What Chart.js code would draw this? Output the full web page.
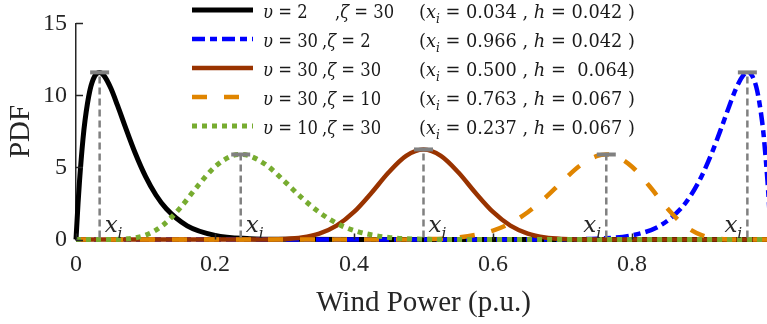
<!DOCTYPE html>
<html>
<head>
<meta charset="utf-8">
<script src="https://cdn.jsdelivr.net/npm/chart.js@4.4.1/dist/chart.umd.min.js"></script>
<style>
  html, body { margin: 0; padding: 0; background: #fff; overflow: hidden; width: 767px; height: 324px; }
  canvas { display: block; }
</style>
</head>
<body>
<canvas id="chart" width="780" height="324"></canvas>
<script>
// Axis ticks
const xTickValues = [0, 0.2, 0.4, 0.6, 0.8];
const yTickValues = [0, 5, 10, 15];

// Beta PDFs of wind power, v = 2, zeta = 30
const blackX = [0, 0.003, 0.005, 0.01, 0.013, 0.02, 0.027, 0.034, 0.04, 0.05, 0.06, 0.07, 0.085, 0.1, 0.115, 0.13, 0.16, 0.2, 0.25, 0.3, 0.4, 0.6, 0.8, 1.0];
const blackY = [0, 2.56, 4.02, 6.95, 8.27, 10.35, 11.35, 11.6, 11.39, 10.51, 9.27, 7.94, 6.02, 4.38, 3.09, 2.13, 0.95, 0.29, 0.06, 0.01, 0, 0, 0, 0];

// v = 30, zeta = 2
const blueX = [0, 0.2, 0.4, 0.6, 0.7, 0.75, 0.8, 0.84, 0.87, 0.885, 0.9, 0.915, 0.93, 0.94, 0.95, 0.96, 0.966, 0.973, 0.98, 0.987, 0.99, 0.995, 0.997, 1.0];
const blueY = [0, 0, 0, 0, 0.01, 0.06, 0.29, 0.95, 2.13, 3.09, 4.38, 6.02, 7.94, 9.27, 10.51, 11.39, 11.6, 11.35, 10.35, 8.27, 6.95, 4.02, 2.56, 0];

// v = 30, zeta = 30
const brownX = [0, 0.25, 0.3, 0.325, 0.35, 0.375, 0.4, 0.425, 0.45, 0.475, 0.5, 0.525, 0.55, 0.575, 0.6, 0.625, 0.65, 0.675, 0.7, 0.75, 1.0];
const brownY = [0, 0, 0.04, 0.14, 0.41, 0.96, 1.91, 3.23, 4.67, 5.81, 6.25, 5.81, 4.67, 3.23, 1.91, 0.96, 0.41, 0.14, 0.04, 0, 0];

// v = 30, zeta = 10
const orangeX = [0, 0.45, 0.5, 0.55, 0.6, 0.625, 0.65, 0.675, 0.7, 0.725, 0.75, 0.763, 0.775, 0.8, 0.825, 0.85, 0.875, 0.9, 0.925, 0.95, 1.0];
const orangeY = [0, 0, 0.02, 0.14, 0.62, 1.13, 1.89, 2.89, 4.04, 5.13, 5.80, 5.9, 5.82, 5.05, 3.71, 2.20, 0.99, 0.30, 0.05, 0, 0];

// v = 10, zeta = 30
const greenX = [0, 0.05, 0.075, 0.1, 0.125, 0.15, 0.175, 0.2, 0.225, 0.237, 0.25, 0.275, 0.3, 0.325, 0.35, 0.375, 0.4, 0.45, 0.5, 0.55, 1.0];
const greenY = [0, 0, 0.05, 0.30, 0.99, 2.20, 3.71, 5.05, 5.82, 5.9, 5.80, 5.13, 4.04, 2.89, 1.89, 1.13, 0.62, 0.14, 0.02, 0, 0];

// Legend parameters, in legend order: black, blue, brown, orange, green
const nuValues = ['2', '30', '30', '30', '10'];
const zetaValues = ['30', '2', '30', '10', '30'];
const xiValues = [0.034, 0.966, 0.500, 0.763, 0.237];
const xiLabels = ['0.034', '0.966', '0.500', '0.763', '0.237'];
const hLabels = ['0.042', '0.042', '0.064', '0.067', '0.067'];
const peakValues = [11.6, 11.6, 6.25, 5.9, 5.9];

const toPoints = (xs, ys) => xs.map((x, i) => ({ x: x, y: ys[i] }));

const TEXT = '#262626';
const SERIF = '"Liberation Serif", "Times New Roman", serif';
const MATH = '"DejaVu Serif", serif';

const series = [
  { data: toPoints(blackX, blackY), borderColor: '#000000', borderWidth: 5, borderDash: [], order: 4 },
  { data: toPoints(blueX, blueY), borderColor: '#0000FF', borderWidth: 4.5, borderDash: [13, 5, 7, 5], order: 3 },
  { data: toPoints(brownX, brownY), borderColor: '#993300', borderWidth: 4.5, borderDash: [], order: 2 },
  { data: toPoints(orangeX, orangeY), borderColor: '#E08500', borderWidth: 4.5, borderDash: [15, 17], order: 1 },
  { data: toPoints(greenX, greenY), borderColor: '#77AC30', borderWidth: 5, borderDash: [5, 5], order: 0 }
];

// Draw a sequence of text runs (plain / italic / subscript) starting at x
function drawRuns(ctx, runs, x, y, size, measureOnly) {
  let cx = x;
  runs.forEach(r => {
    const s = r.sub ? size * 0.68 : size;
    ctx.font = (r.it ? 'italic ' : '') + s + 'px ' + MATH;
    if (!measureOnly) ctx.fillText(r.t, cx, y + (r.sub ? size * 0.28 : 0));
    cx += ctx.measureText(r.t).width;
  });
  return cx - x;
}

function drawScaled(ctx, runs, x, y, size, sx) {
  ctx.save();
  ctx.translate(x, y);
  ctx.scale(sx, 1);
  drawRuns(ctx, runs, 0, 0, size, false);
  ctx.restore();
}

const legendPlugin = {
  id: 'paramLegend',
  afterDraw(chart) {
    const ctx = chart.ctx;
    const rowY = [10, 39, 68, 97, 126];
    const size = 18;
    ctx.save();
    ctx.textBaseline = 'alphabetic';
    ctx.textAlign = 'left';
    ctx.fillStyle = '#1a1a1a';

    const col1 = i => [{ t: 'υ', it: true }, { t: ' = ' + nuValues[i] }];
    const col2 = i => [{ t: ',' }, { t: 'ζ', it: true }, { t: ' = ' + zetaValues[i] }];
    const col3 = i => [
      { t: '(' }, { t: 'x', it: true }, { t: 'i', it: true, sub: true },
      { t: ' = ' + xiLabels[i] + ' , ' }, { t: 'h', it: true },
      { t: ' = ' + (i === 2 ? ' ' + hLabels[i] + ')' : hLabels[i] + ' )') }
    ];
    const sxA = 55 / drawRuns(ctx, col1(1), 0, 0, size, true);
    const sxB = 216 / drawRuns(ctx, col3(0), 0, 0, size, true);

    chart.data.datasets.forEach((ds, i) => {
      const y = rowY[i];
      // line sample
      ctx.save();
      ctx.strokeStyle = ds.borderColor;
      ctx.lineWidth = ds.borderWidth;
      ctx.setLineDash(ds.borderDash || []);
      ctx.beginPath();
      ctx.moveTo(192, y);
      ctx.lineTo(253, y);
      ctx.stroke();
      ctx.restore();

      const base = y + 8;
      drawScaled(ctx, col1(i), 263, base, size, sxA);
      drawScaled(ctx, col2(i), i === 0 ? 335 : 322, base, size, sxA);
      drawScaled(ctx, col3(i), 419, base, size, sxB);
    });
    ctx.restore();
  }
};

// Mode markers: dashed drop line, cap at the peak and an x_i label
const markerPlugin = {
  id: 'modeMarkers',
  afterDatasetsDraw(chart) {
    const ctx = chart.ctx;
    const xs = chart.scales.x, ys = chart.scales.y;
    const y0 = ys.getPixelForValue(0);
    ctx.save();
    xiValues.forEach((xi, i) => {
      const px = xs.getPixelForValue(xi);
      const py = ys.getPixelForValue(peakValues[i]);
      ctx.strokeStyle = '#808080';
      ctx.lineWidth = 2.5;
      ctx.setLineDash([7, 4]);
      ctx.beginPath();
      ctx.moveTo(px, y0 - 2);
      ctx.lineTo(px, py);
      ctx.stroke();
      ctx.setLineDash([]);
      ctx.lineWidth = 4;
      ctx.beginPath();
      ctx.moveTo(px - 9.5, py);
      ctx.lineTo(px + 9.5, py);
      ctx.stroke();

      // label
      ctx.fillStyle = TEXT;
      ctx.textBaseline = 'alphabetic';
      ctx.textAlign = 'left';
      const runs = [{ t: 'x', it: true }, { t: 'i', it: true, sub: true }];
      const w = drawRuns(ctx, runs, 0, 0, 23, true);
      const lx = xi > 0.7 ? px - 5 - w : px + 5;
      drawRuns(ctx, runs, lx, 232, 23, false);
    });
    ctx.restore();
  }
};

// Inward ticks on both axes
const tickPlugin = {
  id: 'inwardTicks',
  afterDraw(chart) {
    const ctx = chart.ctx;
    const xs = chart.scales.x, ys = chart.scales.y;
    const a = chart.chartArea;
    ctx.save();
    ctx.strokeStyle = TEXT;
    ctx.lineWidth = 1.5;
    ctx.beginPath();
    xTickValues.forEach(v => {
      const px = Math.round(xs.getPixelForValue(v)) + 0.5;
      ctx.moveTo(px, a.bottom);
      ctx.lineTo(px, a.bottom - 6);
    });
    yTickValues.forEach(v => {
      const py = Math.round(ys.getPixelForValue(v)) + 0.5;
      ctx.moveTo(a.left, py);
      ctx.lineTo(a.left + 7, py);
    });
    ctx.stroke();
    ctx.restore();
  }
};

new Chart(document.getElementById('chart'), {
  type: 'line',
  data: {
    datasets: series.map(s => Object.assign({
      fill: false,
      pointRadius: 0,
      pointHoverRadius: 0,
      cubicInterpolationMode: 'monotone',
      borderCapStyle: 'butt',
      borderJoinStyle: 'round',
      clip: false
    }, s))
  },
  options: {
    responsive: false,
    animation: false,
    devicePixelRatio: 1,
    layout: { padding: { left: 0, right: 9, top: 17.5, bottom: 0 } },
    plugins: { legend: { display: false }, tooltip: { enabled: false } },
    scales: {
      x: {
        type: 'linear',
        min: 0,
        max: 1,
        afterBuildTicks: s => { s.ticks = xTickValues.map(v => ({ value: v })); },
        afterFit: s => { s.height = 84.5; },
        ticks: {
          callback: v => String(v),
          color: TEXT,
          font: { family: SERIF, size: 24 },
          padding: 11,
          maxRotation: 0,
          autoSkip: false
        },
        grid: { display: false, drawTicks: false },
        border: { display: true, color: TEXT, width: 1.5 },
        title: {
          display: true,
          text: 'Wind Power (p.u.)',
          color: TEXT,
          font: { family: SERIF, size: 29 },
          padding: { top: 0, bottom: 3 }
        }
      },
      y: {
        type: 'linear',
        min: 0,
        max: 15,
        afterBuildTicks: s => { s.ticks = yTickValues.map(v => ({ value: v })); },
        afterFit: s => { s.width = 76; },
        ticks: {
          callback: v => String(v),
          color: TEXT,
          font: { family: SERIF, size: 24 },
          padding: 9
        },
        grid: { display: false, drawTicks: false },
        border: { display: true, color: TEXT, width: 1.5 },
        title: {
          display: true,
          text: 'PDF',
          color: TEXT,
          font: { family: SERIF, size: 29 },
          padding: { top: 4, bottom: 0 }
        }
      }
    }
  },
  plugins: [markerPlugin, legendPlugin, tickPlugin]
});
</script>
</body>
</html>
